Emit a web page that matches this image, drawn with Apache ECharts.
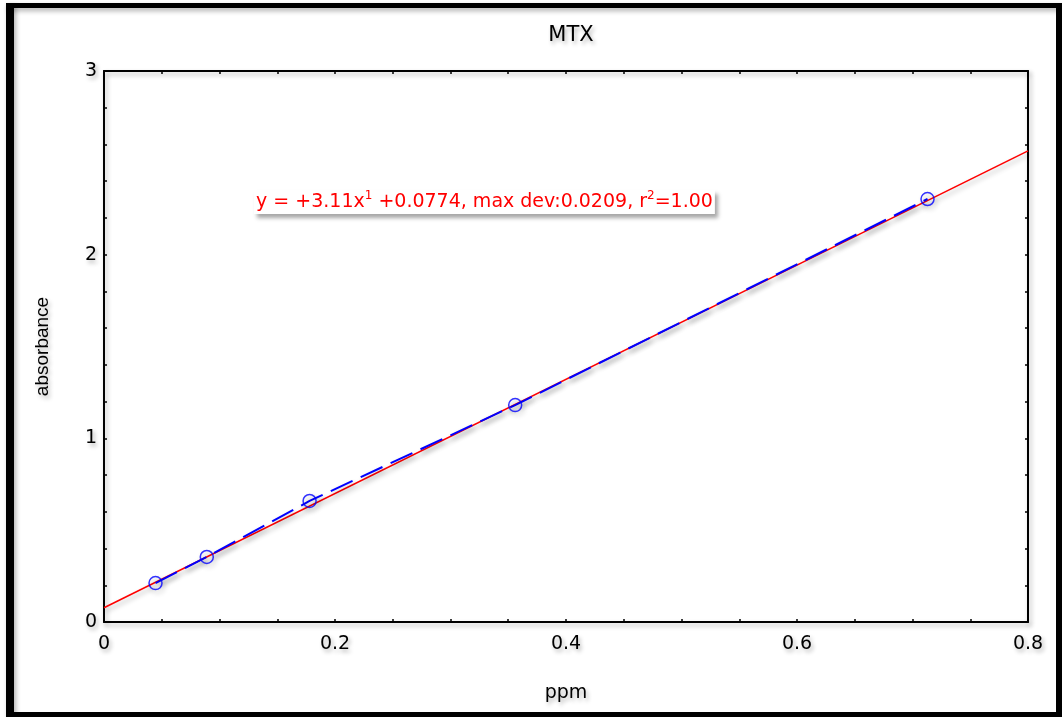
<!DOCTYPE html>
<html>
<head>
<meta charset="utf-8">
<title>MTX</title>
<script src="https://cdn.jsdelivr.net/npm/echarts@6.0.0/dist/echarts.min.js"></script>
<style>
  html, body { margin: 0; padding: 0; background: #fff; }
  #chart { width: 1062px; height: 717px; }
</style>
</head>
<body>
<div id="chart"></div>
<script>
// measured points (ppm vs absorbance)
const ppm = [0.0446, 0.089, 0.178, 0.356, 0.713]
const absorbance = [0.212, 0.354, 0.659, 1.181, 2.303]
// regression line end points, y = 3.11x + 0.0774
const fitPpm = [0, 0.8]
const fitAbs = [0.0774, 2.5654]
const xTicks = [0, 0.2, 0.4, 0.6, 0.8]
const yTicks = [0, 1, 2, 3]

const chart = echarts.init(document.getElementById('chart'))

const shadow = {
  shadowColor: 'rgba(0,0,0,0.3)',
  shadowBlur: 5,
  shadowOffsetX: 2,
  shadowOffsetY: 3
}
const textShadow = {
  textShadowColor: 'rgba(0,0,0,0.3)',
  textShadowBlur: 4,
  textShadowOffsetX: 2,
  textShadowOffsetY: 3
}
const axisLine = {show: true, onZero: false, lineStyle: Object.assign({color: '#000', width: 2}, shadow)}
const tickStyle = {color: '#000', width: 1.5}

function xAxis(pos, labels) {
  return {
    type: 'value',
    position: pos,
    min: xTicks[0],
    max: xTicks[xTicks.length - 1],
    interval: 0.2,
    axisLine: axisLine,
    axisTick: {show: true, inside: true, length: 3, lineStyle: tickStyle},
    minorTick: {show: true, splitNumber: 4, length: 3, lineStyle: tickStyle},
    splitLine: {show: false},
    axisLabel: labels ? Object.assign({
      show: true, color: '#000', fontFamily: 'DejaVu Sans', fontSize: 19, margin: 13
    }, textShadow) : {show: false},
    name: labels ? 'ppm' : '',
    nameLocation: 'middle',
    nameGap: 62,
    nameTextStyle: Object.assign({color: '#000', fontFamily: 'DejaVu Sans', fontSize: 19}, textShadow)
  }
}

function yAxis(pos, labels) {
  return {
    type: 'value',
    position: pos,
    min: yTicks[0],
    max: yTicks[yTicks.length - 1],
    interval: 1,
    axisLine: axisLine,
    axisTick: {show: true, inside: true, length: 3, lineStyle: tickStyle},
    minorTick: {show: true, splitNumber: 5, length: 3, lineStyle: tickStyle},
    splitLine: {show: false},
    axisLabel: labels ? Object.assign({
      show: true, color: '#000', fontFamily: 'DejaVu Sans', fontSize: 19, margin: 7
    }, textShadow) : {show: false},
    name: labels ? 'absorbance' : '',
    nameLocation: 'middle',
    nameGap: 52,
    nameRotate: 90,
    nameTextStyle: Object.assign({color: '#000', fontFamily: 'Liberation Sans', fontSize: 19}, textShadow)
  }
}

const txt = {fontFamily: 'DejaVu Sans', fontSize: 19, fill: '#ff0000', lineHeight: 24}
const sup = {fontFamily: 'DejaVu Sans', fontSize: 12, fill: '#ff0000', verticalAlign: 'top', lineHeight: 24}

const option = {
  animation: false,
  backgroundColor: '#fff',
  title: {
    text: 'MTX',
    left: 566,
    top: 20,
    textAlign: 'center',
    textStyle: Object.assign({color: '#000', fontFamily: 'DejaVu Sans', fontSize: 21, fontWeight: 'normal'}, textShadow)
  },
  grid: {left: 104, right: 34, top: 71, bottom: 95},
  xAxis: [xAxis('bottom', true), xAxis('top', false)],
  yAxis: [yAxis('left', true), yAxis('right', false)],
  series: [
    {
      name: 'fit',
      type: 'line',
      data: fitPpm.map((x, i) => [x, fitAbs[i]]),
      showSymbol: false,
      lineStyle: Object.assign({color: '#ff0000', width: 1.5}, shadow),
      z: 2
    },
    {
      name: 'data line',
      type: 'line',
      data: ppm.map((x, i) => [x, absorbance[i]]),
      showSymbol: false,
      lineStyle: Object.assign({color: '#0000ff', width: 2, type: [24, 9]}, shadow),
      z: 3
    },
    {
      name: 'data',
      type: 'scatter',
      data: ppm.map((x, i) => [x, absorbance[i]]),
      symbol: 'circle',
      symbolSize: 13,
      itemStyle: Object.assign({color: 'rgba(0,0,0,0)', borderColor: '#0000ff', borderWidth: 1.5}, shadow),
      z: 4
    }
  ],
  graphic: [
    // outer black frame
    {type: 'rect', shape: {x: 6, y: 3, width: 8, height: 714}, style: Object.assign({fill: '#000'}, shadow), z: 100},
    {type: 'rect', shape: {x: 6, y: 3, width: 1056, height: 5}, style: Object.assign({fill: '#000'}, shadow), z: 100},
    {type: 'rect', shape: {x: 1056, y: 3, width: 6, height: 714}, style: {fill: '#000'}, z: 100},
    {type: 'rect', shape: {x: 6, y: 712, width: 1056, height: 5}, style: {fill: '#000'}, z: 100},
    // equation label
    {
      type: 'text',
      left: 254,
      top: 190,
      z: 50,
      style: {
        text: '{a|y = +3.11x}{s|1}{a| +0.0774, max dev:0.0209, r}{s|2}{a|=1.00}',
        rich: {a: txt, s: sup},
        fill: '#ff0000',
        backgroundColor: '#fff',
        padding: [0, 2, 0, 2],
        shadowColor: 'rgba(0,0,0,0.35)',
        shadowBlur: 4,
        shadowOffsetX: 3,
        shadowOffsetY: 4
      }
    }
  ]
}

chart.setOption(option)
</script>
</body>
</html>
